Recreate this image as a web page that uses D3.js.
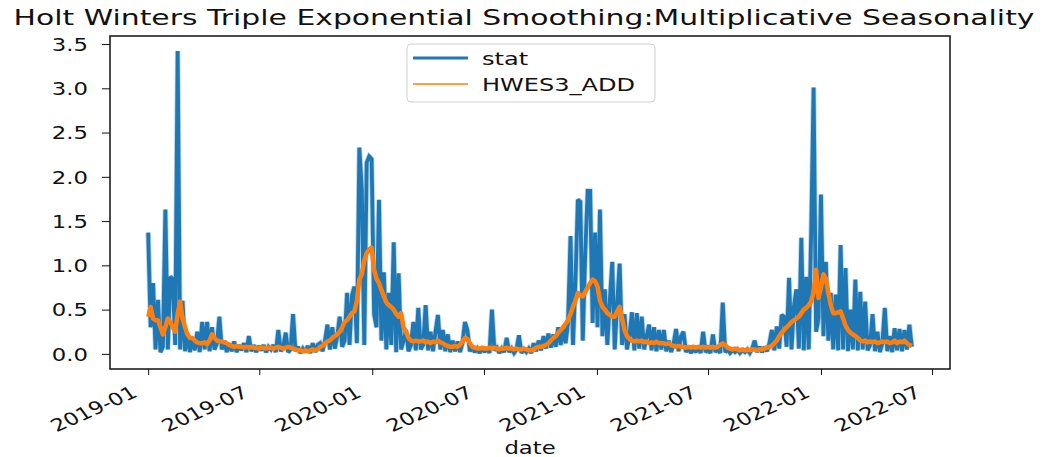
<!DOCTYPE html>
<html>
<head>
<meta charset="utf-8">
<script src="https://cdn.jsdelivr.net/npm/d3@7"></script>
<style>
  body { margin: 0; background: #fff; }
  svg { display: block; font-family: "DejaVu Sans", sans-serif; }
</style>
</head>
<body>
<svg id="chart" width="1049" height="457"></svg>
<script>
const title = "Holt Winters Triple Exponential Smoothing:Multiplicative Seasonality";
const seriesNames = ["stat", "HWES3_ADD"];
const xLabel = "date";

// one reading every 4 days, starting on the first day below
const startDate = "2019-01-01";
const stepDays = 4;

const stat = [
  1.37, 0.30, 0.80, 0.05, 0.61, 0.02, 0.08, 1.63, 0.05, 0.87,
  0.85, 0.10, 3.42, 0.05, 0.60, 0.03, 0.22, 0.02, 0.18, 0.04,
  0.25, 0.02, 0.36, 0.05, 0.36, 0.03, 0.30, 0.05, 0.12, 0.42,
  0.05, 0.15, 0.02, 0.12, 0.03, 0.14, 0.02, 0.10, 0.04, 0.12,
  0.02, 0.20, 0.03, 0.10, 0.02, 0.09, 0.04, 0.10, 0.02, 0.08,
  0.05, 0.10, 0.02, 0.27, 0.03, 0.08, 0.24, 0.02, 0.05, 0.45,
  0.03, 0.08, 0.01, 0.06, 0.02, 0.09, 0.01, 0.12, 0.02, 0.10,
  0.12, 0.03, 0.15, 0.33, 0.05, 0.30, 0.06, 0.20, 0.42, 0.08,
  0.15, 0.69, 0.10, 0.66, 0.76, 0.12, 2.33, 1.86, 0.10, 2.16,
  2.23, 2.20, 0.45, 0.30, 1.74, 0.15, 0.92, 0.05, 0.69, 0.10,
  1.26, 0.02, 0.91, 0.05, 0.15, 0.27, 0.03, 0.10, 0.36, 0.04,
  0.52, 0.05, 0.10, 0.55, 0.04, 0.25, 0.03, 0.25, 0.44, 0.05,
  0.27, 0.03, 0.22, 0.02, 0.15, 0.03, 0.14, 0.02, 0.12, 0.36,
  0.27, 0.03, 0.08, 0.02, 0.06, 0.01, 0.08, 0.02, 0.07, 0.01,
  0.50, 0.04, 0.07, 0.01, 0.06, 0.02, 0.18, 0.02, 0.06, 0.01,
  0.05, 0.21, 0.01, 0.05, 0.02, 0.06, 0.01, 0.12, 0.03, 0.15,
  0.04, 0.20, 0.06, 0.23, 0.07, 0.22, 0.08, 0.30, 0.10, 0.30,
  0.12, 0.36, 1.33, 0.10, 0.80, 1.74, 1.72, 0.15, 1.14, 1.84,
  1.84, 0.35, 1.37, 0.30, 1.63, 0.20, 0.73, 0.10, 0.60, 1.04,
  0.05, 0.57, 1.02, 0.10, 0.45, 0.05, 0.20, 0.47, 0.04, 0.46,
  0.06, 0.42, 0.05, 0.20, 0.33, 0.04, 0.30, 0.03, 0.27, 0.05,
  0.27, 0.03, 0.15, 0.02, 0.12, 0.28, 0.03, 0.20, 0.25, 0.02,
  0.08, 0.01, 0.06, 0.02, 0.08, 0.01, 0.25, 0.02, 0.05, 0.01,
  0.22, 0.02, 0.06, 0.01, 0.58, 0.02, 0.05, 0.01, 0.04, 0.02,
  0.05, 0.01, 0.04, 0.02, 0.05, 0.01, 0.06, 0.15, 0.02, 0.08,
  0.02, 0.08, 0.03, 0.12, 0.27, 0.04, 0.31, 0.06, 0.44, 0.42,
  0.08, 0.86, 0.05, 0.54, 0.73, 0.06, 1.31, 0.04, 0.87, 0.05,
  1.35, 3.01, 0.25, 0.40, 1.80, 0.20, 1.04, 0.15, 0.69, 0.05,
  0.67, 0.04, 1.23, 0.05, 0.97, 0.03, 0.50, 0.05, 0.84, 0.04,
  0.70, 0.05, 0.59, 0.04, 0.10, 0.45, 0.03, 0.25, 0.02, 0.12,
  0.52, 0.03, 0.20, 0.02, 0.29, 0.04, 0.28, 0.03, 0.27, 0.05,
  0.33, 0.08
];

const hwes3Add = [
  0.42, 0.53, 0.40, 0.38, 0.38, 0.30, 0.22, 0.30, 0.40, 0.36,
  0.30, 0.25, 0.45, 0.59, 0.40, 0.30, 0.22, 0.18, 0.18, 0.15,
  0.13, 0.12, 0.12, 0.13, 0.11, 0.15, 0.22, 0.18, 0.15, 0.14,
  0.14, 0.13, 0.12, 0.10, 0.09, 0.08, 0.09, 0.08, 0.08, 0.07,
  0.08, 0.07, 0.08, 0.07, 0.07, 0.06, 0.07, 0.07, 0.06, 0.07,
  0.07, 0.06, 0.07, 0.08, 0.07, 0.06, 0.07, 0.08, 0.07, 0.06,
  0.05, 0.04, 0.04, 0.03, 0.04, 0.03, 0.04, 0.05, 0.04, 0.05,
  0.08, 0.09, 0.12, 0.14, 0.15, 0.18, 0.20, 0.22, 0.25, 0.30,
  0.36, 0.38, 0.42, 0.46, 0.48, 0.60, 0.84, 0.90, 1.05, 1.14,
  1.18, 1.20, 0.95, 0.85, 0.80, 0.72, 0.65, 0.58, 0.55, 0.53,
  0.50, 0.45, 0.42, 0.46, 0.30, 0.25, 0.18, 0.15, 0.14, 0.15,
  0.14, 0.14, 0.15, 0.13, 0.14, 0.12, 0.14, 0.13, 0.15, 0.13,
  0.12, 0.10, 0.09, 0.08, 0.08, 0.09, 0.08, 0.10, 0.14, 0.18,
  0.17, 0.12, 0.08, 0.07, 0.06, 0.06, 0.07, 0.06, 0.06, 0.07,
  0.06, 0.07, 0.06, 0.05, 0.06, 0.06, 0.07, 0.06, 0.06, 0.05,
  0.06, 0.05, 0.05, 0.06, 0.05, 0.04, 0.04, 0.05, 0.07, 0.08,
  0.08, 0.09, 0.10, 0.12, 0.15, 0.18, 0.20, 0.24, 0.27, 0.30,
  0.34, 0.38, 0.45, 0.53, 0.60, 0.69, 0.66, 0.65, 0.70, 0.75,
  0.80, 0.84, 0.82, 0.76, 0.60, 0.53, 0.50, 0.46, 0.44, 0.42,
  0.42, 0.48, 0.53, 0.40, 0.27, 0.20, 0.17, 0.15, 0.14, 0.15,
  0.14, 0.15, 0.13, 0.14, 0.12, 0.13, 0.12, 0.14, 0.12, 0.12,
  0.12, 0.11, 0.12, 0.10, 0.09, 0.08, 0.09, 0.08, 0.08, 0.07,
  0.08, 0.07, 0.08, 0.07, 0.08, 0.07, 0.08, 0.07, 0.08, 0.07,
  0.08, 0.07, 0.08, 0.10, 0.12, 0.10, 0.07, 0.06, 0.05, 0.06,
  0.05, 0.04, 0.05, 0.04, 0.05, 0.04, 0.05, 0.05, 0.04, 0.05,
  0.05, 0.06, 0.07, 0.08, 0.09, 0.12, 0.15, 0.20, 0.24, 0.27,
  0.30, 0.33, 0.36, 0.38, 0.40, 0.42, 0.46, 0.50, 0.52, 0.55,
  0.59, 0.70, 0.95, 0.63, 0.75, 0.90, 0.85, 0.69, 0.55, 0.46,
  0.46, 0.47, 0.48, 0.40, 0.32, 0.27, 0.24, 0.22, 0.20, 0.18,
  0.15, 0.14, 0.15, 0.13, 0.14, 0.13, 0.14, 0.12, 0.13, 0.14,
  0.13, 0.14, 0.12, 0.13, 0.15, 0.12, 0.14, 0.13, 0.15, 0.12,
  0.10, 0.09
];

const xTickLabels = ["2019-01", "2019-07", "2020-01", "2020-07", "2021-01", "2021-07", "2022-01", "2022-07"];
const yTickLabels = ["0.0", "0.5", "1.0", "1.5", "2.0", "2.5", "3.0", "3.5"];

const colors = ["#1f77b4", "#ff7f0e"];

const width = 1049;
const height = 457;
const margin = { top: 36, right: 99, bottom: 88, left: 110 };
const stretch = 1.3; // the picture is wider than it is tall, text included
const fontSize = 17.5;

const svg = d3.select("#chart")
    .attr("viewBox", [0, 0, width, height]);

const parseDay = d3.utcParse("%Y-%m-%d");
const parseMonth = d3.utcParse("%Y-%m");
const t0 = parseDay(startDate);
const dates = stat.map((_, i) => d3.utcDay.offset(t0, i * stepDays));

const statData = stat.map((v, i) => ({ key: dates[i], value: v }));
const hwesData = hwes3Add.map((v, i) => ({ key: dates[i], value: v }));

// matplotlib style 5% margins
const [d0, d1] = d3.extent(dates);
const xPad = (d1 - d0) * 0.05;
const yMax = d3.max(stat);
const yPad = yMax * 0.05;

const x = d3.scaleUtc()
    .domain([new Date(+d0 - xPad), new Date(+d1 + xPad)])
    .range([margin.left, width - margin.right]);

const y = d3.scaleLinear()
    .domain([-yPad, yMax + yPad])
    .range([height - margin.bottom, margin.top]);

svg.append("clipPath")
    .attr("id", "plot-clip")
    .append("rect")
    .attr("x", margin.left)
    .attr("y", margin.top)
    .attr("width", width - margin.left - margin.right)
    .attr("height", height - margin.top - margin.bottom);

const line = d3.line()
    .x(d => x(d.key))
    .y(d => y(d.value));

const plot = svg.append("g").attr("clip-path", "url(#plot-clip)");

// soft edge under the blue, the picture is a bit blurred
plot.append("path")
    .datum(statData)
    .attr("fill", "none")
    .attr("stroke", colors[0])
    .attr("stroke-opacity", 0.3)
    .attr("stroke-width", 5.5)
    .attr("stroke-linejoin", "miter")
    .attr("stroke-miterlimit", 2)
    .attr("d", line);

plot.append("path")
    .datum(statData)
    .attr("fill", "none")
    .attr("stroke", colors[0])
    .attr("stroke-width", 3.8)
    .attr("stroke-linejoin", "miter")
    .attr("stroke-miterlimit", 2)
    .attr("d", line);

plot.append("path")
    .datum(hwesData)
    .attr("fill", "none")
    .attr("stroke", colors[1])
    .attr("stroke-width", 4.5)
    .attr("stroke-linejoin", "round")
    .attr("d", line);

// x axis
const xTicks = xTickLabels.map(parseMonth);
const gx = svg.append("g")
    .attr("transform", `translate(0,${height - margin.bottom})`)
    .call(d3.axisBottom(x).tickValues(xTicks).tickFormat((d, i) => xTickLabels[i]).tickSize(6).tickSizeOuter(0));
gx.select(".domain").remove();
gx.selectAll(".tick line").attr("stroke", "#111");
gx.selectAll(".tick text")
    .attr("y", null)
    .attr("dy", null)
    .attr("fill", "#111")
    .attr("font-size", fontSize)
    .attr("font-family", "DejaVu Sans")
    .attr("text-anchor", "end")
    .attr("transform", `translate(-10,27) scale(${stretch},1) rotate(-30)`);

// y axis
const gy = svg.append("g")
    .attr("transform", `translate(${margin.left},0)`)
    .call(d3.axisLeft(y).tickValues(yTickLabels.map(Number)).tickFormat((d, i) => yTickLabels[i]).tickSize(8).tickSizeOuter(0));
gy.select(".domain").remove();
gy.selectAll(".tick line").attr("stroke", "#111");
gy.selectAll(".tick text")
    .attr("x", null)
    .attr("dy", "0.36em")
    .attr("fill", "#111")
    .attr("font-size", fontSize)
    .attr("font-family", "DejaVu Sans")
    .attr("text-anchor", "end")
    .attr("transform", `translate(-22,0) scale(${stretch},1)`);

// frame
svg.append("rect")
    .attr("x", margin.left)
    .attr("y", margin.top)
    .attr("width", width - margin.left - margin.right)
    .attr("height", height - margin.top - margin.bottom)
    .attr("fill", "none")
    .attr("stroke", "#111")
    .attr("stroke-width", 1.5);

// title and axis label
svg.append("text")
    .attr("x", 524)
    .attr("y", 25)
    .attr("text-anchor", "middle")
    .attr("font-size", 21)
    .attr("fill", "#111")
    .attr("textLength", 1021)
    .attr("lengthAdjust", "spacingAndGlyphs")
    .text(title);

svg.append("text")
    .attr("text-anchor", "middle")
    .attr("fill", "#111")
    .attr("font-size", fontSize)
    .attr("transform", `translate(${(margin.left + width - margin.right) / 2},454) scale(${stretch},1)`)
    .text(xLabel);

// legend
const legend = svg.append("g").attr("transform", "translate(407,44)");
legend.append("rect")
    .attr("width", 248)
    .attr("height", 58)
    .attr("rx", 4)
    .attr("fill", "#fff")
    .attr("fill-opacity", 0.8)
    .attr("stroke", "#d0d0d0");

seriesNames.forEach((name, i) => {
    const cy = 14 + i * 26;
    legend.append("line")
        .attr("x1", 6).attr("x2", 61)
        .attr("y1", cy).attr("y2", cy)
        .attr("stroke", colors[i])
        .attr("stroke-width", i === 0 ? 3 : 1.5);
    legend.append("text")
        .attr("fill", "#111")
        .attr("font-size", 18.5)
        .attr("transform", `translate(75,${cy + 7}) scale(${stretch},1)`)
        .text(name);
});
</script>
</body>
</html>
